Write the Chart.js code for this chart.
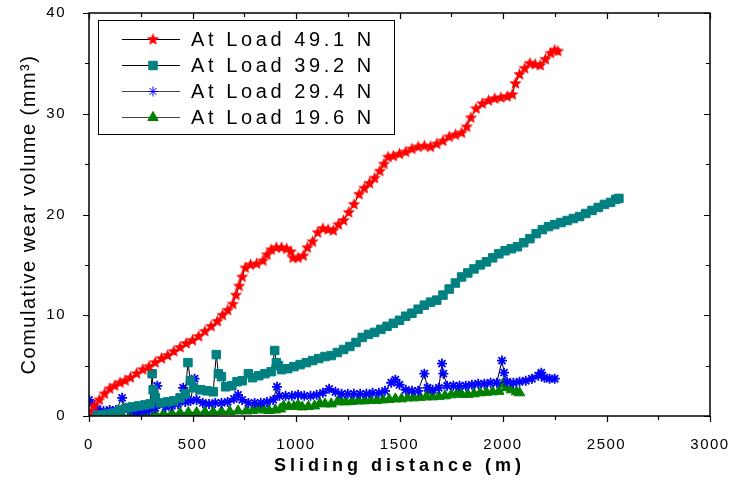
<!DOCTYPE html>
<html>
<head>
<meta charset="utf-8">
<script src="https://cdn.jsdelivr.net/npm/chart.js@4.4.1/dist/chart.umd.min.js"></script>
<style>
  body { margin: 0; background: #fff; }
  #wrap { width: 729px; height: 483px; }
</style>
</head>
<body>
<div id="wrap"><canvas id="wearChart"></canvas></div>
<script>
// Sliding distance (m) and cumulative wear volume (mm3)
const dist49 = [0,25,50,75,100,125,150,175,200,230,260,290,320,350,380,410,440,470,500,530,560,590,620,645,670,695,710,725,740,755,780,810,840,860,880,905,930,955,975,985,1010,1035,1055,1080,1105,1130,1155,1180,1205,1230,1255,1280,1305,1330,1355,1380,1405,1425,1445,1470,1500,1530,1560,1590,1620,1650,1680,1710,1740,1770,1800,1825,1845,1870,1900,1930,1960,1990,2020,2045,2060,2080,2105,2130,2155,2180,2205,2230,2250,2265];
const wear49 = [0.4,1.0,1.6,2.2,2.7,3.0,3.3,3.5,3.8,4.2,4.6,4.9,5.3,5.7,6.0,6.4,6.8,7.2,7.5,7.9,8.4,8.9,9.4,10.0,10.5,11.1,12.0,12.9,13.8,14.7,15.0,15.1,15.4,16.0,16.5,16.7,16.7,16.6,16.3,15.7,15.7,15.9,16.7,17.3,18.2,18.6,18.5,18.4,19.0,19.4,20.2,21.0,22.0,22.6,23.1,23.6,24.3,25.0,25.7,25.8,26.0,26.2,26.5,26.7,26.8,26.7,27.0,27.3,27.7,27.9,28.1,28.7,29.6,30.5,31.0,31.3,31.5,31.6,31.7,31.9,33.0,33.9,34.5,35.0,34.9,34.8,35.4,36.0,36.3,36.2];

const dist39 = [0,30,60,90,120,150,180,210,240,270,295,305,310,320,345,380,410,440,465,478,490,505,540,570,600,615,625,640,660,690,715,740,770,790,820,850,880,897,905,915,930,960,990,1020,1050,1080,1110,1140,1170,1200,1230,1260,1290,1320,1350,1380,1410,1440,1470,1500,1530,1560,1590,1620,1650,1680,1710,1740,1770,1800,1830,1860,1890,1920,1950,1980,2010,2040,2070,2100,2130,2160,2190,2220,2250,2280,2310,2340,2370,2400,2430,2460,2490,2520,2545,2560];
const wear39 = [0.0,0.1,0.1,0.2,0.3,0.6,0.8,0.9,1.0,1.1,1.2,4.2,2.6,1.8,1.3,1.4,1.5,1.8,2.2,5.3,3.5,2.8,2.6,2.5,2.4,6.1,4.2,3.9,2.9,3.0,3.4,3.5,4.2,3.8,4.0,4.2,4.4,6.5,5.3,5.0,4.6,4.7,4.9,5.1,5.3,5.5,5.7,5.9,6.0,6.3,6.6,6.9,7.3,7.8,8.1,8.3,8.6,8.9,9.2,9.5,9.9,10.2,10.6,11.0,11.3,11.5,12.0,12.6,13.2,13.8,14.2,14.6,15.0,15.3,15.7,16.1,16.4,16.6,16.8,17.2,17.6,18.1,18.5,18.8,19.0,19.2,19.4,19.6,19.8,20.1,20.4,20.7,21.0,21.2,21.5,21.6];

const dist29 = [0,15,40,70,100,130,160,175,200,230,260,290,320,330,340,370,400,430,455,465,490,510,520,550,580,610,640,670,700,720,740,770,800,830,860,890,908,920,950,980,1010,1040,1070,1100,1130,1160,1190,1220,1250,1280,1310,1340,1370,1400,1430,1460,1480,1500,1530,1560,1590,1620,1635,1660,1690,1705,1712,1730,1760,1790,1820,1850,1880,1910,1940,1970,1995,2005,2020,2050,2080,2110,2140,2170,2185,2200,2225,2250];
const wear29 = [1.6,1.2,0.7,0.5,0.6,0.6,1.8,0.8,0.6,0.4,0.5,0.6,0.8,3.0,1.2,0.9,1.0,1.2,2.8,1.4,1.5,3.7,1.6,1.3,1.2,1.3,1.3,1.4,1.7,2.1,1.6,1.3,1.3,1.3,1.4,1.6,2.9,2.0,2.0,2.0,2.1,2.0,2.0,2.1,2.3,2.7,2.4,2.2,2.2,2.2,2.2,2.2,2.3,2.3,2.5,3.3,3.6,3.1,2.6,2.5,2.5,4.2,2.8,2.6,2.8,5.2,4.2,3.0,3.0,3.0,3.0,3.1,3.2,3.2,3.3,3.3,5.5,4.3,3.4,3.3,3.4,3.5,3.7,4.0,4.3,3.8,3.7,3.7];

const dist19 = [120,160,200,240,280,320,360,400,440,480,520,560,600,640,680,720,760,790,810,825,845,870,900,925,940,965,990,1010,1030,1060,1090,1115,1140,1170,1200,1215,1240,1270,1300,1330,1360,1390,1420,1450,1480,1510,1540,1570,1600,1630,1645,1660,1690,1720,1750,1780,1800,1830,1860,1890,1920,1950,1980,2000,2015,2040,2065,2080];
const wear19 = [0.0,0.05,0.1,0.1,0.15,0.2,0.2,0.25,0.3,0.35,0.35,0.4,0.4,0.45,0.45,0.5,0.5,0.55,0.7,0.9,0.6,0.55,0.6,0.7,1.0,0.95,0.95,1.1,0.9,0.95,1.0,1.25,1.2,1.2,1.4,1.55,1.4,1.45,1.5,1.5,1.55,1.55,1.6,1.65,1.7,1.7,1.8,1.8,1.85,1.9,2.5,1.9,1.95,2.0,2.1,2.3,2.15,2.15,2.2,2.3,2.35,2.4,2.45,3.2,2.8,2.6,2.4,2.3];

const seriesLabels = ['At Load 49.1 N', 'At Load 39.2 N', 'At Load 29.4 N', 'At Load 19.6 N'];
const xTicks = [0, 500, 1000, 1500, 2000, 2500, 3000];
const yTicks = [0, 10, 20, 30, 40];

const FONT = 'Arial, "Liberation Sans", sans-serif';

function toPoints(xs, ys) {
    const n = Math.min(xs.length, ys.length);
    const pts = [];
    for (let i = 0; i < n; i++) pts.push({ x: xs[i], y: ys[i] });
    return pts;
}

// filled five point star for the 49.1 N markers
function starImage(r, color) {
    const c = document.createElement('canvas');
    c.width = c.height = Math.ceil(r * 2 + 2);
    const g = c.getContext('2d');
    const m = c.width / 2;
    g.fillStyle = color;
    g.beginPath();
    for (let i = 0; i < 10; i++) {
        const a = -Math.PI / 2 + i * Math.PI / 5;
        const rr = i % 2 ? r * 0.45 : r;
        g.lineTo(m + rr * Math.cos(a), m + rr * Math.sin(a));
    }
    g.closePath();
    g.fill();
    return c;
}
const redStar = starImage(6.5, '#ff0000');

const markers = [
    { style: redStar, color: '#ff0000', radius: 6.5, width: 1 },
    { style: 'rect', color: '#008080', radius: 6, width: 1 },
    { style: 'star', color: '#0000ff', radius: 5, width: 1.8 },
    { style: 'triangle', color: '#008000', radius: 6, width: 1 }
];

const seriesData = [
    toPoints(dist49, wear49),
    toPoints(dist39, wear39),
    toPoints(dist29, wear29),
    toPoints(dist19, wear19)
];

const datasets = seriesData.map((pts, i) => ({
    label: seriesLabels[i],
    data: pts,
    showLine: true,
    borderColor: '#000',
    borderWidth: 1,
    pointStyle: markers[i].style,
    pointRadius: markers[i].radius,
    pointBackgroundColor: markers[i].color,
    pointBorderColor: markers[i].color,
    pointBorderWidth: markers[i].width
}));

// frame, mirrored ticks, x title and boxed legend
const framePlugin = {
    id: 'frame',
    beforeDraw(chart) {
        chart.ctx.letterSpacing = '1.5px';
    },
    afterDraw(chart) {
        const ctx = chart.ctx;
        const { left, right, top, bottom } = chart.chartArea;
        const xs = chart.scales.x, ys = chart.scales.y;
        ctx.save();
        ctx.letterSpacing = '0px';
        ctx.strokeStyle = '#000';
        ctx.lineWidth = 1.5;
        ctx.strokeRect(left, top, right - left, bottom - top);

        ctx.lineWidth = 1.2;
        ctx.beginPath();
        for (let v = 0; v <= 3000; v += 250) {
            const px = Math.round(xs.getPixelForValue(v)) + 0.5;
            const len = v % 500 === 0 ? 6 : 4;
            ctx.moveTo(px, bottom); ctx.lineTo(px, bottom + len);
            ctx.moveTo(px, top); ctx.lineTo(px, top + len);
        }
        for (let v = 0; v <= 40; v += 5) {
            const py = Math.round(ys.getPixelForValue(v)) + 0.5;
            const len = v % 10 === 0 ? 6 : 4;
            ctx.moveTo(left, py); ctx.lineTo(left - len, py);
            ctx.moveTo(right, py); ctx.lineTo(right - len, py);
        }
        ctx.stroke();

        // x axis title
        ctx.fillStyle = '#000';
        ctx.font = 'bold 18px ' + FONT;
        ctx.letterSpacing = '4px';
        ctx.textAlign = 'center';
        ctx.textBaseline = 'middle';
        ctx.fillText('Sliding distance (m)', (left + right) / 2, 466);

        // legend box
        ctx.letterSpacing = '0px';
        ctx.lineWidth = 1;
        ctx.strokeRect(98.5, 20.5, 296, 114);
        const rows = [39, 65, 91, 117];
        rows.forEach((y, i) => {
            ctx.strokeStyle = i < 2 ? '#000' : '#444';
            ctx.lineWidth = 1;
            ctx.beginPath();
            ctx.moveTo(122, y + 0.5); ctx.lineTo(180, y + 0.5);
            ctx.stroke();
            ctx.fillStyle = markers[i].color;
            ctx.strokeStyle = markers[i].color;
            Chart.helpers.drawPoint(ctx, {
                pointStyle: markers[i].style,
                radius: markers[i].radius,
                rotation: 0,
                borderWidth: markers[i].width
            }, 153, y + 0.5);
            ctx.fillStyle = '#000';
            ctx.font = '20px ' + FONT;
            ctx.letterSpacing = '3.6px';
            ctx.textAlign = 'left';
            ctx.textBaseline = 'middle';
            ctx.fillText(seriesLabels[i], 191, y + 1);
            ctx.letterSpacing = '0px';
        });
        ctx.restore();
    }
};

function noEdgePadding(s) {
    s.paddingLeft = 0; s.paddingRight = 0; s.paddingTop = 0; s.paddingBottom = 0;
}

new Chart(document.getElementById('wearChart'), {
    type: 'scatter',
    data: { datasets },
    options: {
        responsive: true,
        maintainAspectRatio: false,
        animation: false,
        layout: { padding: { left: 0, top: 13, right: 19, bottom: 0 } },
        plugins: {
            legend: { display: false },
            tooltip: { enabled: false }
        },
        scales: {
            x: {
                type: 'linear',
                min: 0,
                max: 3000,
                afterFit: s => { s.height = 67; noEdgePadding(s); },
                afterBuildTicks: s => { s.ticks = xTicks.map(v => ({ value: v })); },
                grid: { display: false },
                border: { display: false },
                ticks: { color: '#000', font: { family: FONT, size: 15 }, padding: 12, maxRotation: 0, callback: v => String(v) }
            },
            y: {
                min: 0,
                max: 40,
                afterFit: s => { s.width = 89; noEdgePadding(s); },
                afterBuildTicks: s => { s.ticks = yTicks.map(v => ({ value: v })); },
                grid: { display: false },
                border: { display: false },
                ticks: { color: '#000', font: { family: FONT, size: 15 }, padding: 15, callback: v => String(v) },
                title: {
                    display: true,
                    text: 'Comulative wear volume (mm³)',
                    color: '#000',
                    font: { family: FONT, size: 20 },
                    padding: { top: 17, bottom: 0 }
                }
            }
        }
    },
    plugins: [framePlugin]
});
</script>
</body>
</html>
